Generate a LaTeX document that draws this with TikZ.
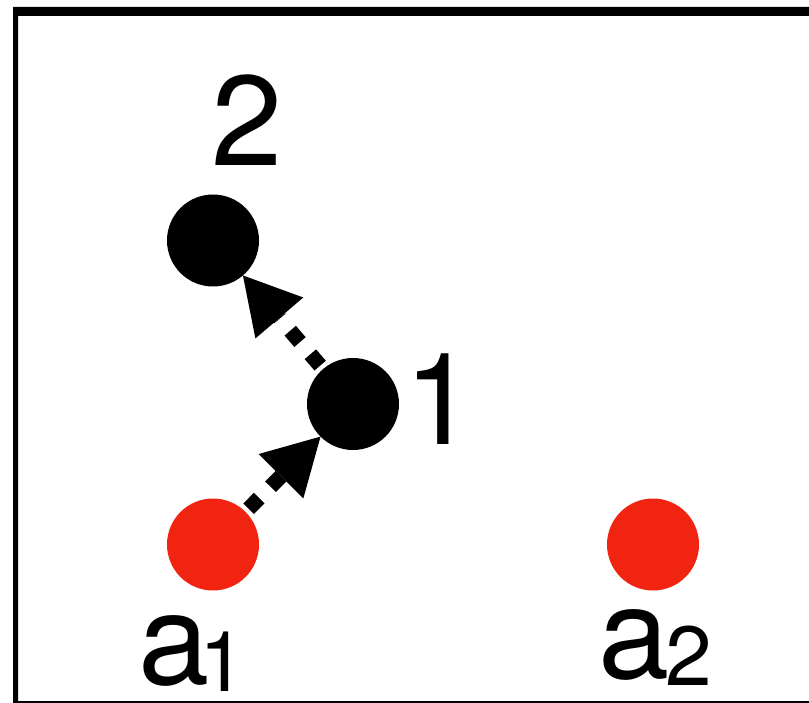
\documentclass[tikz,border=0pt]{standalone}
\usepackage{fontspec}
\setmainfont{TeX Gyre Heros}
\usetikzlibrary{arrows.meta}
\definecolor{dotred}{RGB}{240,36,16}
\newcommand{\subtxt}[2]{\kern#1\raisebox{-7pt}{\fontsize{84}{84}\selectfont #2}}
\tikzset{
  blackdot/.style={circle,fill=black,draw=none,inner sep=0pt,outer sep=0pt,minimum size=92pt},
  reddot/.style={blackdot,fill=dotred},
  biglabel/.style={inner sep=0pt,outer sep=0pt,font=\fontsize{128}{128}\selectfont},
  movearrow/.style={line width=15pt,dash pattern=on 15pt off 16pt,dash phase=26.5pt,
    -{Triangle[length=56pt,width=63pt,line width=0pt]}}
}
\begin{document}
\begin{tikzpicture}[x=1pt,y=-1pt]
  \useasboundingbox (0,0) rectangle (809,703);
  \clip (0,0) rectangle (809,703);
  % frame
  \fill[black,even odd rule] (13,7) rectangle (830,720) (18,16) rectangle (830,701);
  % points
  \node[reddot] (a1) at (213,544.5) {};
  \node[reddot] (a2) at (653,544.5) {};
  \node[blackdot] (n1) at (353,404) {};
  \node[blackdot] (n2) at (213,240.5) {};
  % moves
  \draw[movearrow] (a1) -- (n1);
  \draw[movearrow] (n1) -- (n2);
  % labels
  \node[biglabel,anchor=base] (l2) at (247.5,166) {2};
  \node[biglabel,anchor=base west] (l1) at (404,444) {1};
  \node[biglabel,anchor=base west] (la1) at (138,684) {a\subtxt{-10pt}{1}};
  \node[biglabel,anchor=base west] (la2) at (598,678) {a\subtxt{-4pt}{2}};
\end{tikzpicture}
\end{document}
